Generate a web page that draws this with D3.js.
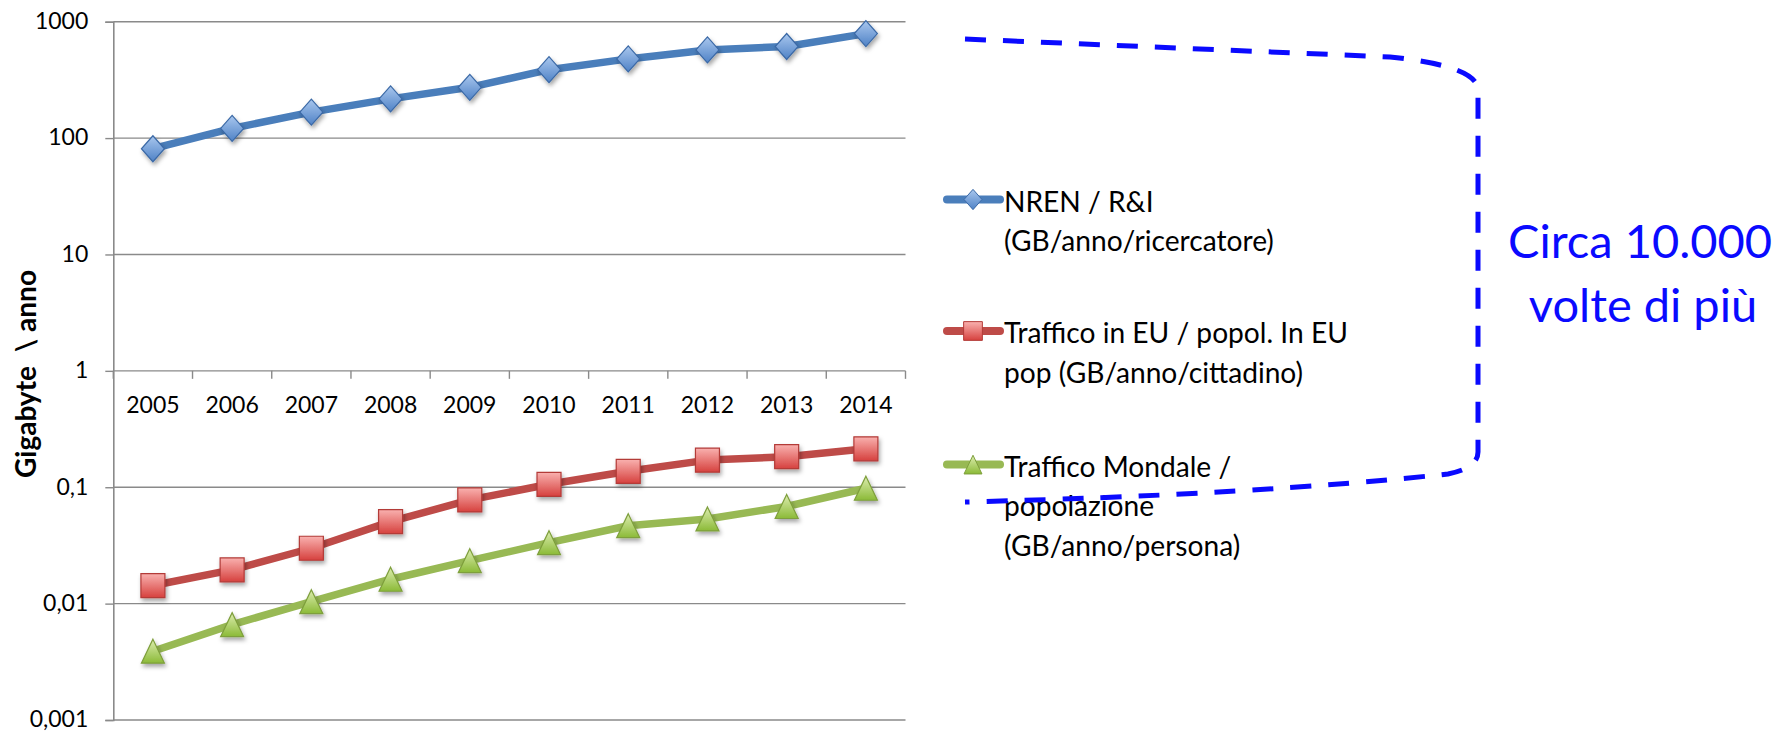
<!DOCTYPE html>
<html>
<head>
<meta charset="utf-8">
<script src="https://cdn.jsdelivr.net/npm/d3@7"></script>
<style>
  html, body { margin: 0; padding: 0; background: #fff; }
  svg { display: block; }
  text { font-family: Lato, "Noto Sans", sans-serif; }
</style>
</head>
<body>
<svg id="chart" width="1777" height="731"></svg>
<script>
// ---------------- data ----------------
const years = [2005, 2006, 2007, 2008, 2009, 2010, 2011, 2012, 2013, 2014];
const nrenValues = [81, 121, 167, 217, 273, 387, 479, 572, 612, 790];
const euTrafficValues = [0.0143, 0.0195, 0.0299, 0.0506, 0.0778, 0.106, 0.137, 0.171, 0.183, 0.214];
const worldTrafficValues = [0.0039, 0.0066, 0.0104, 0.0162, 0.0234, 0.0334, 0.0467, 0.0534, 0.0683, 0.098];
const yTickValues = [1000, 100, 10, 1, 0.1, 0.01, 0.001];
const yTickLabels = ["1000", "100", "10", "1", "0,1", "0,01", "0,001"];
const seriesNames = ["nren", "eu", "world"];
const legendLabels = [
  ["NREN / R&I", "(GB/anno/ricercatore)"],
  ["Traffico in EU / popol. In EU", "pop (GB/anno/cittadino)"],
  ["Traffico Mondale /", "popolazione", "(GB/anno/persona)"]
];
const yAxisTitle = "Gigabyte  \\ anno";
const annotationLines = ["Circa 10.000", "volte di più"];

// ---------------- layout ----------------
const svg = d3.select("#chart");
const plot = { left: 113.3, right: 905.5, top: 21.7, bottom: 720 };

const x = d3.scaleBand().domain(years).range([plot.left, plot.right]).padding(0);
const y = d3.scaleLog().domain([0.001, 1000]).range([plot.bottom, plot.top]);
const xc = d => x(d) + x.bandwidth() / 2;

const styles = {
  nren:  { line: "#4A7EBB", top: "#A9C7EE", bottom: "#4F82C6", stroke: "#3B69A6", shape: "diamond" },
  eu:    { line: "#BE4B48", top: "#F9B1AF", bottom: "#D6413E", stroke: "#B33A37", shape: "square" },
  world: { line: "#98B954", top: "#DDEDB0", bottom: "#8BBA37", stroke: "#7E9F3C", shape: "triangle" }
};
const seriesData = {
  nren: nrenValues,
  eu: euTrafficValues,
  world: worldTrafficValues
};

// defs: gradients + shadow
const defs = svg.append("defs");
seriesNames.forEach(k => {
  const g = defs.append("linearGradient").attr("id", "grad-" + k)
    .attr("x1", 0).attr("y1", 0).attr("x2", 0).attr("y2", 1);
  g.append("stop").attr("offset", "0%").attr("stop-color", styles[k].top);
  g.append("stop").attr("offset", "100%").attr("stop-color", styles[k].bottom);
});
const f = defs.append("filter").attr("id", "shadow")
  .attr("x", "-50%").attr("y", "-50%").attr("width", "200%").attr("height", "200%");
f.append("feDropShadow").attr("dx", 1.5).attr("dy", 3).attr("stdDeviation", 2)
  .attr("flood-color", "#000").attr("flood-opacity", 0.35);

// gridlines
const gridColor = "#8a8a8a";
svg.append("g").selectAll("line").data(yTickValues).join("line")
  .attr("x1", plot.left).attr("x2", plot.right)
  .attr("y1", d => y(d)).attr("y2", d => y(d))
  .attr("stroke", gridColor).attr("stroke-width", 1.4);

// y axis
const yAxis = svg.append("g").attr("transform", `translate(${plot.left},0)`)
  .call(d3.axisLeft(y).tickValues(yTickValues)
    .tickFormat((d, i) => yTickLabels[i]).tickSize(8).tickPadding(17));
yAxis.select(".domain").attr("stroke", gridColor).attr("stroke-width", 1.6);
yAxis.selectAll(".tick line").attr("stroke", gridColor).attr("stroke-width", 1.4);
yAxis.selectAll(".tick text").attr("font-size", 23).attr("fill", "#000")
  .attr("dy", "0.30em")
  .style("font-family", "Lato, 'Noto Sans', sans-serif");

// x axis at y = 1 : labels at centres, ticks at category boundaries
const xAxis = svg.append("g").attr("transform", `translate(0,${y(1)})`)
  .call(d3.axisBottom(x).tickSize(0).tickPadding(26));
xAxis.select(".domain").remove();
xAxis.selectAll(".tick text").attr("font-size", 23).attr("fill", "#000")
  .style("font-family", "Lato, 'Noto Sans', sans-serif");
const boundaries = years.map(d => x(d)).concat([x(years[years.length - 1]) + x.bandwidth()]);
xAxis.append("g").selectAll("line").data(boundaries).join("line")
  .attr("x1", d => d).attr("x2", d => d).attr("y1", 0).attr("y2", 8)
  .attr("stroke", gridColor).attr("stroke-width", 1.4);

// y axis title
const title = svg.append("text")
  .attr("transform", `translate(36,374) rotate(-90)`)
  .attr("text-anchor", "middle")
  .attr("font-size", 28).attr("font-weight", "bold")
  .style("white-space", "pre")
  .text(yAxisTitle);
const tw = title.node().getComputedTextLength();
if (tw < 208) title.attr("word-spacing", (208 - tw) / 3);

// marker shapes
function markerPath(shape, s) {
  if (shape === "diamond") {
    const w = 11.5 * s, h = 13 * s;
    return `M0,${-h}L${w},0L0,${h}L${-w},0Z`;
  }
  if (shape === "square") {
    const a = 12 * s;
    return `M${-a},${-a}H${a}V${a}H${-a}Z`;
  }
  const w = 11.5 * s, h = 12 * s;
  return `M0,${-h}L${w},${h}L${-w},${h}Z`;
}

// lines and markers
const line = d3.line().x((d, i) => xc(years[i])).y(d => y(d));
seriesNames.forEach(k => {
  svg.append("path").datum(seriesData[k])
    .attr("d", line).attr("fill", "none")
    .attr("stroke", styles[k].line).attr("stroke-width", 7.5)
    .attr("stroke-linejoin", "round").attr("stroke-linecap", "round");
});
seriesNames.forEach(k => {
  svg.append("g").selectAll("path").data(seriesData[k]).join("path")
    .attr("transform", (d, i) => `translate(${xc(years[i])},${y(d)})`)
    .attr("d", markerPath(styles[k].shape, 1))
    .attr("fill", `url(#grad-${k})`)
    .attr("stroke", styles[k].stroke).attr("stroke-width", 1.2)
    .attr("filter", "url(#shadow)");
});

// legend
const legend = svg.append("g");
const legendRowY = [199.5, 331, 464.6];
const legendLineGap = 39.6;
let legendFont = 26;
seriesNames.forEach((k, i) => {
  const g = legend.append("g").attr("transform", `translate(0,${legendRowY[i]})`);
  g.append("line").attr("x1", 947).attr("x2", 1000).attr("y1", 0).attr("y2", 0)
    .attr("stroke", styles[k].line).attr("stroke-width", 8).attr("stroke-linecap", "round");
  g.append("path").attr("transform", "translate(973,0)")
    .attr("d", markerPath(styles[k].shape, 0.78))
    .attr("fill", `url(#grad-${k})`).attr("stroke", styles[k].stroke).attr("stroke-width", 1);
  const t = g.append("text").attr("class", "legend-text").attr("x", 1004).attr("y", 12)
    .attr("font-size", legendFont).attr("fill", "#000");
  legendLabels[i].forEach((s, j) => {
    t.append("tspan").attr("x", 1004).attr("dy", j === 0 ? 0 : legendLineGap).text(s);
  });
});
// fit legend font so the longest line matches the reference width
const probe = legend.selectAll(".legend-text tspan").filter(function () {
  return this.textContent === legendLabels[1][0];
});
if (!probe.empty()) {
  const w = probe.node().getComputedTextLength();
  legendFont = legendFont * 344 / w;
  legend.selectAll(".legend-text").attr("font-size", legendFont);
}

// annotation bracket
svg.append("path")
  .attr("d", "M965,39 L1390,57 Q1478,66 1478,90 L1478,452 Q1478,468 1448,474 Q1250,495 965,502")
  .attr("fill", "none").attr("stroke", "#0a0aff").attr("stroke-width", 5)
  .attr("stroke-dasharray", "21 17");

// annotation text
const ann = svg.append("text").attr("text-anchor", "middle").attr("fill", "#0a0aff")
  .attr("font-size", 50);
ann.append("tspan").attr("x", 1640).attr("y", 258).text(annotationLines[0]);
ann.append("tspan").attr("x", 1643).attr("y", 322).text(annotationLines[1]);
const aw = ann.select("tspan").node().getComputedTextLength();
ann.attr("font-size", 50 * 264 / aw);
</script>
</body>
</html>
